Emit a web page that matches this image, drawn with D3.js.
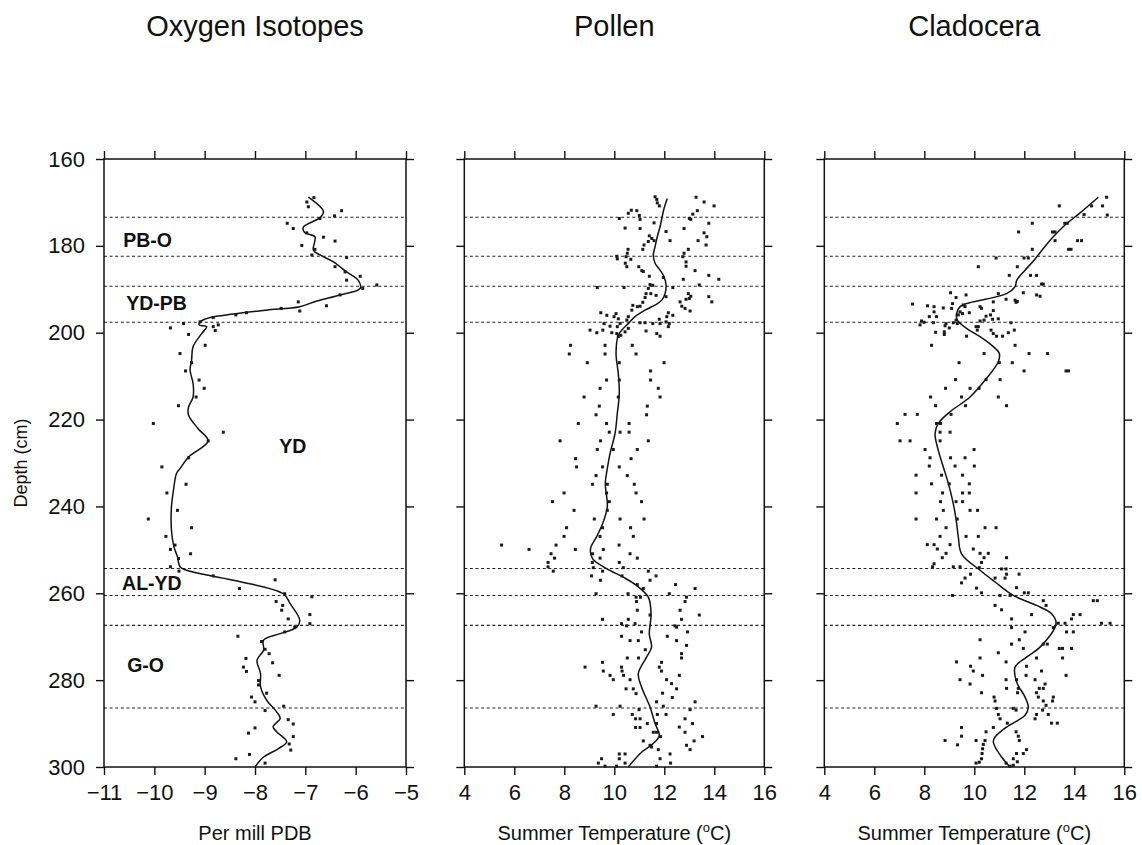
<!DOCTYPE html>
<html>
<head>
<meta charset="utf-8">
<script src="https://cdn.jsdelivr.net/npm/d3@7"></script>
<style>
  body { margin:0; background:#fff; }
  text { font-family:"Liberation Sans", Arial, Helvetica, sans-serif; fill:#111; }
</style>
</head>
<body>
<div id="chart"></div>
<script>
var W = 1142, H = 845

// ---- data (value, depth cm) ----
var titles     = ['Oxygen Isotopes', 'Pollen', 'Cladocera']
var depthTicks = [160, 180, 200, 220, 240, 260, 280, 300]
var isoTicks   = [-11, -10, -9, -8, -7, -6, -5]
var tempTicks  = [4, 6, 8, 10, 12, 14, 16]
var zoneLines  = [173.4, 182.4, 189.3, 197.6, 254.3, 260.5, 267.4, 286.4]
var zoneNames  = ['PB-O', 'YD-PB', 'YD', 'AL-YD', 'G-O']
var zoneLabelAt = [[-10.62, 180.3], [-10.56, 194.8], [-7.52, 227.7], [-10.64, 259.3], [-10.54, 278.2]]

var isoDots = [[-6.97,169.9],[-6.94,171.0],[-6.83,168.9],[-6.28,171.9],[-6.42,173.1],[-6.71,173.7],[-7.36,174.8],[-7.24,176.0],[-6.97,177.0],[-6.64,178.0],[-6.41,178.9],[-7.07,179.9],[-6.81,180.8],[-6.87,182.1],[-6.18,182.7],[-6.41,184.8],[-6.21,186.0],[-5.91,187.0],[-6.18,187.9],[-5.58,189.0],[-5.86,189.8],[-6.31,191.3],[-7.14,192.9],[-6.58,193.8],[-7.11,195.0],[-7.48,194.4],[-8.17,195.4],[-8.38,195.9],[-8.83,196.5],[-9.09,197.5],[-9.42,197.9],[-9.68,198.9],[-8.83,198.6],[-8.73,198.2],[-8.79,199.5],[-9.32,200.4],[-8.99,202.9],[-9.49,204.8],[-9.26,206.9],[-9.38,208.8],[-9.11,210.9],[-9.01,212.8],[-9.17,214.8],[-9.52,216.8],[-10.02,220.9],[-8.63,222.9],[-8.93,224.9],[-9.32,228.8],[-9.85,230.9],[-9.37,234.9],[-9.75,236.9],[-9.54,240.9],[-10.12,242.9],[-9.26,244.9],[-9.77,246.9],[-9.59,248.9],[-9.68,249.9],[-9.28,250.9],[-9.52,252.0],[-9.68,253.9],[-9.51,254.9],[-8.83,256.0],[-7.60,256.9],[-8.31,258.9],[-7.41,260.1],[-6.87,260.8],[-7.58,261.9],[-7.45,262.8],[-7.47,263.9],[-6.91,264.9],[-7.34,265.9],[-6.91,267.0],[-7.21,267.8],[-7.41,268.9],[-8.34,269.9],[-7.87,271.1],[-7.80,272.9],[-7.72,273.9],[-8.18,275.0],[-7.65,276.0],[-8.23,277.0],[-8.17,278.0],[-7.52,278.9],[-7.93,280.1],[-7.93,281.1],[-7.77,283.0],[-8.07,283.9],[-8.00,285.0],[-7.43,286.0],[-7.80,287.0],[-7.34,289.1],[-7.24,290.1],[-8.00,291.0],[-8.13,292.2],[-7.24,293.0],[-7.32,294.7],[-7.29,296.1],[-8.11,297.1],[-8.38,298.1],[-7.80,299.1]]

var isoLine = [[-6.94,168.8],[-6.64,172.1],[-6.71,173.5],[-7.04,175.7],[-7.01,177.0],[-6.81,177.9],[-6.84,181.0],[-6.71,182.1],[-6.44,183.7],[-6.18,186.0],[-5.95,187.9],[-5.91,189.8],[-6.31,191.3],[-6.77,192.7],[-7.11,194.0],[-7.77,194.8],[-8.43,195.7],[-8.89,196.5],[-9.09,197.5],[-9.11,198.2],[-8.96,198.6],[-9.06,200.2],[-9.23,203.2],[-9.26,206.3],[-9.29,208.6],[-9.23,211.7],[-9.23,214.8],[-9.32,217.1],[-9.32,219.0],[-9.13,222.1],[-8.93,224.9],[-9.32,228.6],[-9.49,231.3],[-9.56,232.4],[-9.62,236.3],[-9.66,240.1],[-9.66,245.5],[-9.61,249.3],[-9.54,251.6],[-9.49,253.9],[-9.36,254.7],[-8.43,257.0],[-7.44,260.1],[-7.30,262.4],[-7.11,266.2],[-7.17,267.8],[-7.50,269.3],[-7.83,270.8],[-7.83,273.1],[-7.96,275.4],[-7.89,278.5],[-7.89,281.5],[-7.77,284.6],[-7.57,287.3],[-7.50,288.8],[-7.64,290.7],[-7.57,291.9],[-7.37,294.2],[-7.54,295.8],[-7.83,297.7],[-8.00,300.0]]

var pollenDots = [[11.63,168.7],[11.70,169.3],[11.72,170.1],[11.80,170.8],[13.27,168.8],[13.59,169.9],[13.99,170.8],[10.68,171.8],[10.90,171.9],[10.56,172.5],[11.00,173.0],[11.03,173.9],[10.20,173.7],[13.32,171.9],[13.14,172.7],[13.00,173.7],[13.06,173.9],[13.78,174.8],[10.43,175.9],[11.03,176.0],[12.79,176.0],[11.59,174.7],[12.07,176.7],[11.40,177.7],[11.50,178.3],[11.59,178.8],[11.36,179.0],[13.59,177.0],[13.70,177.9],[13.35,178.8],[12.23,178.8],[11.19,179.8],[11.14,180.8],[13.67,179.8],[10.55,180.8],[10.52,181.7],[12.96,180.8],[12.79,181.7],[12.74,182.5],[12.87,183.7],[12.87,184.7],[10.10,182.4],[10.12,183.0],[10.47,182.5],[10.66,183.1],[10.44,184.0],[10.50,184.8],[10.98,184.8],[11.10,185.7],[11.16,185.9],[11.40,187.0],[13.23,185.7],[13.78,186.8],[14.18,187.7],[12.76,187.7],[11.96,187.3],[13.40,189.0],[9.32,189.6],[10.39,189.6],[11.43,188.9],[11.54,189.1],[11.36,189.8],[12.34,189.6],[11.27,191.0],[11.46,191.0],[11.67,191.4],[11.23,191.9],[12.96,191.0],[13.06,191.6],[13.00,192.1],[12.87,192.3],[13.78,191.7],[13.90,192.9],[12.07,191.7],[11.14,193.0],[11.03,193.9],[10.92,194.0],[10.74,193.7],[10.70,194.8],[12.63,192.9],[12.70,193.9],[12.83,194.4],[13.03,195.0],[9.46,195.4],[9.70,196.0],[10.07,195.6],[9.99,196.3],[10.16,196.8],[10.23,197.9],[10.12,198.6],[10.56,196.3],[10.50,197.1],[12.16,195.4],[12.34,196.0],[12.10,196.3],[12.07,197.5],[12.20,197.9],[12.16,198.6],[11.80,196.9],[11.83,197.9],[11.54,197.9],[11.03,197.7],[11.23,197.7],[9.59,197.9],[9.83,198.5],[9.03,199.4],[9.30,200.0],[9.54,199.4],[9.90,200.0],[10.10,200.2],[10.16,200.9],[10.26,200.6],[10.56,199.0],[10.43,199.8],[11.27,199.6],[11.70,200.2],[11.83,200.8],
[8.25,202.9],[9.63,202.9],[10.72,202.9],[8.20,204.9],[9.63,204.9],[10.87,204.9],[8.92,206.9],[11.99,206.9],[10.20,206.9],[11.45,208.8],[9.69,210.9],[10.20,210.9],[11.45,210.9],[9.43,212.8],[11.76,212.8],[8.79,214.8],[11.83,214.8],[10.16,214.8],[9.40,216.9],[11.32,216.9],[9.27,218.9],[11.29,218.9],[8.56,220.9],[9.69,220.9],[10.59,220.9],[9.80,222.9],[10.23,222.9],[10.59,222.9],[7.83,224.9],[9.45,224.9],[11.36,224.9],[9.32,226.9],[9.96,226.9],[10.92,226.9],[8.45,229.0],[10.67,229.0],[8.49,230.9],[9.53,230.9],[10.20,230.9],
[9.27,232.9],[10.52,232.9],[9.13,234.9],[9.72,234.9],[10.80,234.9],[7.99,236.9],[9.69,236.9],[10.87,236.9],[7.53,238.9],[9.80,238.9],[11.09,238.9],[8.39,240.9],[9.72,240.9],[10.23,242.9],[9.20,242.9],[11.19,242.9],[8.09,244.9],[9.53,244.9],[10.65,244.9],[7.99,246.9],[9.43,246.9],[10.76,246.9],[5.49,248.9],[7.67,248.9],[10.19,248.9],[6.59,249.9],[8.44,249.9],[9.56,249.9],[9.13,250.9],[10.63,250.9],[7.47,250.9],[7.61,251.9],[10.92,251.9],[9.43,251.9],[7.35,252.9],[7.35,253.9],[9.12,252.9],[10.20,252.9],[7.56,254.9],[9.16,254.1],[9.53,254.9],[10.36,254.1],[11.36,254.9],[9.09,256.0],[9.45,257.0],[11.67,256.0],[11.43,257.0],[10.31,256.0],[10.92,258.0],[12.45,258.0],[11.16,258.9],[13.23,258.9],[9.27,260.1],[10.55,260.1],[12.20,260.1],[10.87,260.9],[11.05,260.9],[12.89,260.9],[10.89,261.9],[12.83,261.9],[10.92,263.9],[12.63,263.9],[13.40,265.0],[11.43,265.0],[9.53,266.0],[10.56,266.0],[12.69,266.0],[10.29,267.0],[10.49,267.5],[10.83,267.0],[12.49,267.8],[12.43,267.5],[11.09,268.9],[12.93,268.9],[10.29,269.9],[12.12,269.9],[10.63,270.9],[10.96,270.9],[12.49,270.9],[12.89,272.0],[11.24,273.0],[12.69,273.9],[12.69,274.9],[10.52,274.9],[10.97,274.9],[9.53,275.9],[11.89,275.9],[8.83,277.0],[10.29,277.0],[11.80,277.0],[9.56,277.9],[10.31,277.9],[11.89,277.9],[12.60,278.9],[9.83,278.9],[10.37,278.9],[9.96,279.9],[10.63,279.9],[12.09,279.9],[10.47,282.0],[10.76,282.0],[12.29,280.8],[12.49,282.0],[10.87,283.1],[11.93,283.0],[12.32,284.0],[11.69,285.0],[13.23,285.0],[9.27,286.0],[10.23,286.0],[11.96,286.0],[13.03,286.8],[10.99,286.8],[9.96,287.9],[10.72,287.9],[11.72,287.9],[12.07,287.9],[12.83,288.9],[10.85,288.9],[11.03,288.9],[11.32,290.0],[11.69,290.0],[12.60,290.8],[13.13,290.0],[10.85,290.9],[11.03,290.9],[12.83,292.0],[11.56,292.0],[11.69,292.0],[13.53,293.0],[11.85,293.0],[11.16,294.0],[13.19,294.0],[12.89,295.0],[11.43,295.0],[11.49,295.4],[13.03,296.0],[11.76,296.0],[10.20,297.0],[10.43,297.0],[12.23,297.0],[9.49,298.1],[10.20,298.1],[11.83,298.1],[9.36,299.1],[10.43,299.1],[12.25,299.1],[9.63,299.8],[10.09,299.8],[11.69,299.8]]

var pollenLine = [[12.12,169.1],[11.99,171.4],[11.90,173.7],[11.83,175.6],[11.72,177.9],[11.63,180.2],[11.56,182.1],[11.63,184.0],[11.83,185.6],[11.99,187.1],[12.07,189.0],[12.03,191.0],[11.90,192.5],[11.70,193.4],[11.23,194.8],[10.83,196.3],[10.56,197.9],[10.36,199.0],[10.16,200.6],[10.07,204.8],[10.16,209.4],[10.20,214.0],[10.12,218.6],[10.03,223.2],[9.83,227.8],[9.72,231.3],[9.64,234.7],[9.72,240.1],[9.53,244.0],[9.29,247.0],[9.05,249.7],[9.13,252.0],[9.69,254.3],[10.36,256.3],[10.89,258.2],[11.36,260.9],[11.47,264.8],[11.40,269.4],[11.49,272.4],[11.29,274.7],[10.96,278.5],[11.09,281.6],[11.43,286.2],[11.63,290.0],[11.80,292.7],[11.56,294.6],[11.09,296.6],[10.56,300.0]]

var cladDots = [[15.29,168.8],[13.40,170.8],[15.13,170.8],[14.69,170.8],[15.32,172.9],[14.39,172.8],[13.62,174.8],[13.72,174.8],[12.32,174.8],[11.77,176.8],[13.13,176.8],[13.23,176.8],[13.23,178.8],[14.13,178.8],[14.29,178.8],[12.32,180.8],[13.77,180.8],[13.87,180.8],[10.87,182.8],[11.99,182.8],[12.16,182.8],[10.16,184.8],[11.72,184.8],[11.40,186.8],[12.25,186.8],[12.49,186.8],[12.69,188.8],[12.76,188.8],[11.96,190.8],[12.49,191.3],[12.63,191.6],[11.63,192.5],[11.67,193.0],[11.72,192.8],[10.96,191.0],[9.05,190.8],[9.27,191.9],[9.67,191.3],[11.27,192.3],[10.76,192.9],[7.53,193.4],[8.13,193.8],[8.39,194.0],[8.76,194.3],[9.13,193.3],[9.09,194.4],[9.56,193.6],[9.63,194.0],[10.23,194.0],[10.29,194.4],[8.39,195.2],[8.20,196.3],[8.49,196.3],[9.43,195.2],[9.36,195.9],[9.53,195.6],[9.80,195.4],[10.76,194.9],[10.65,195.9],[10.73,196.9],[9.27,197.1],[9.16,197.7],[9.32,197.9],[7.89,197.3],[7.99,197.6],[7.83,198.2],[8.36,197.7],[8.87,197.9],[8.83,198.4],[10.23,197.3],[10.07,198.6],[10.39,197.1],[10.47,196.2],[10.96,196.8],[11.47,197.7],[10.67,199.4],[10.76,200.2],[10.89,200.8],[11.13,200.8],[11.36,200.0],[11.60,199.4],[8.45,199.9],[8.80,199.8],[8.80,200.4],[9.00,198.9],[10.12,199.4],[10.16,198.6],[9.69,200.8],[8.29,202.9],[11.63,202.9],[10.39,204.8],[12.19,204.8],[12.93,204.8],[9.39,206.9],[11.52,206.9],[11.00,206.9],[11.99,208.8],[13.67,208.8],[13.77,208.8],[9.25,210.8],[10.47,210.8],[11.03,210.8],[8.85,212.8],[9.83,212.8],[10.19,212.8],[8.25,214.8],[9.49,214.8],[10.96,214.8],[8.45,216.8],[9.65,216.8],[11.29,216.8],[7.23,218.8],[7.72,218.8],[9.07,218.8],[6.92,220.9],[8.49,220.9],[8.65,220.9],[8.63,222.9],[9.03,222.9],[7.03,224.9],[7.43,224.9],[8.63,224.9],[8.03,226.9],[9.99,226.9],[8.23,228.8],[9.05,228.8],[9.63,228.8],[8.20,230.7],[9.23,230.7],[10.00,230.7],
[7.67,232.8],[8.69,232.8],[9.53,232.8],[8.29,234.8],[9.00,234.8],[9.80,234.8],[7.67,236.9],[8.73,236.9],[9.80,236.9],[9.53,236.9],[8.65,238.9],[9.27,238.9],[9.53,238.9],[8.76,240.9],[9.83,240.9],[10.13,240.9],[7.67,242.9],[8.49,242.9],[9.32,242.9],[8.87,244.9],[10.43,244.9],[10.87,244.9],[8.63,246.9],[9.67,246.9],[10.16,246.9],[8.12,248.8],[8.39,248.8],[9.03,248.8],[9.96,249.8],[10.23,250.8],[10.56,250.8],[8.52,249.8],[8.87,250.8],[8.72,251.8],[10.39,251.8],[10.29,252.9],[11.29,251.8],[8.39,253.2],[8.33,253.9],[9.16,253.9],[9.43,253.9],[10.20,254.1],[11.09,254.4],[11.27,254.4],[9.85,255.6],[9.63,256.5],[9.49,257.6],[10.83,256.5],[11.23,256.5],[11.79,255.6],[11.29,255.6],[11.69,258.7],[10.09,258.8],[10.29,259.9],[12.00,259.9],[12.16,259.9],[9.13,260.5],[11.03,260.5],[11.43,260.5],[12.76,261.7],[12.87,262.8],[10.83,262.8],[11.09,263.8],[12.29,264.9],[13.96,264.9],[14.23,264.9],[11.49,265.9],[11.49,267.9],[13.89,265.9],[13.63,266.9],[15.09,266.9],[15.43,266.9],[14.76,261.7],[14.92,261.7],[13.36,266.9],[13.16,267.9],[12.03,268.9],[11.80,270.7],[13.69,268.9],[13.96,268.9],[10.23,270.7],[11.49,271.7],[12.76,271.7],[12.92,271.7],[10.96,273.7],[11.96,272.7],[13.40,272.7],[13.53,272.7],[13.89,272.7],[10.23,274.9],[12.49,274.9],[13.53,274.9],[9.29,275.8],[11.27,275.8],[9.85,276.8],[9.96,277.9],[12.09,276.8],[12.69,277.9],[10.33,278.9],[12.07,278.9],[13.67,278.9],[9.43,279.9],[11.27,279.9],[11.69,279.9],[12.43,279.9],[9.83,280.9],[12.83,280.9],[11.29,281.9],[11.76,281.9],[12.60,281.9],[12.76,281.9],[10.29,282.9],[12.49,282.9],[11.73,282.9],[10.79,283.9],[10.83,284.8],[12.56,283.9],[13.16,283.9],[13.13,284.8],[12.76,284.8],[12.87,285.8],[11.56,286.5],[11.67,286.9],[10.89,286.5],[12.73,286.9],[10.96,287.9],[12.49,287.9],[12.43,288.9],[12.96,287.9],[13.09,289.9],[13.32,289.9],[11.03,288.9],[11.32,289.9],[9.49,290.9],[9.49,292.9],[10.76,290.9],[10.47,291.9],[11.67,291.9],[11.76,292.9],[8.83,293.9],[9.33,294.9],[10.07,293.9],[10.43,293.9],[10.36,294.8],[10.33,295.8],[10.31,296.9],[10.29,298.1],[10.20,298.9],[10.07,299.1],[11.80,293.9],[12.09,296.0],[11.96,296.9],[11.69,296.9],[11.56,298.1],[11.27,299.1],[11.43,299.8],[11.56,299.6],[11.72,298.8]]

var cladLine = [[14.96,168.8],[14.23,172.4],[13.63,175.2],[13.16,177.9],[12.76,180.6],[12.39,183.3],[12.03,185.6],[11.70,187.9],[11.63,189.4],[11.29,191.0],[9.69,193.3],[9.43,194.0],[9.29,195.6],[9.32,197.1],[9.69,199.0],[10.23,200.9],[10.76,203.2],[11.00,204.8],[10.96,206.7],[10.49,210.5],[9.83,214.8],[9.03,218.2],[8.56,220.9],[8.43,223.2],[8.56,227.1],[8.76,230.9],[8.96,234.7],[9.13,238.6],[9.27,242.9],[9.36,247.0],[9.49,250.9],[10.23,254.7],[10.83,257.4],[11.56,260.5],[12.49,262.8],[13.09,264.7],[13.27,267.0],[12.63,272.4],[12.09,274.7],[11.63,277.0],[11.69,280.4],[12.03,283.9],[12.16,286.2],[12.03,288.1],[11.29,290.8],[10.83,293.1],[10.76,294.3],[11.09,297.7],[11.43,300.0]]

// ---- layout ----
var yTop = 159, yBot = 767
var panels = [
    { x0:104,   x1:406,    dom:[-11, -5], ticks:isoTicks,  dots:isoDots,    line:isoLine,    xlab:'Per mill PDB' },
    { x0:464.3, x1:764.3,  dom:[4, 16],   ticks:tempTicks, dots:pollenDots, line:pollenLine, xlab:'Summer Temperature' },
    { x0:824.3, x1:1124.3, dom:[4, 16],   ticks:tempTicks, dots:cladDots,   line:cladLine,   xlab:'Summer Temperature' }
]

var svg = d3.select('#chart').append('svg')
    .attr('width', W)
    .attr('height', H)

var y = d3.scaleLinear().domain([160, 300]).range([yTop, yBot])

function styleAxis(g) {
    g.select('.domain').remove()
    g.selectAll('.tick line').attr('stroke', '#111').attr('stroke-width', 1.4)
    g.selectAll('.tick text').attr('font-size', 22).attr('fill', '#111')
        .attr('font-family', '"Liberation Sans", Arial, sans-serif')
}

panels.forEach(function(p, i) {
    var x = d3.scaleLinear().domain(p.dom).range([p.x0, p.x1])
    var g = svg.append('g')
    var cx = (p.x0 + p.x1) / 2

    // title
    svg.append('text')
        .attr('x', cx)
        .attr('y', 36)
        .attr('text-anchor', 'middle')
        .attr('font-size', 29)
        .text(titles[i])

    // zone boundaries
    g.selectAll('.zone')
        .data(zoneLines)
        .enter().append('line')
        .attr('x1', p.x0).attr('x2', p.x1)
        .attr('y1', d=> y(d)).attr('y2', d=> y(d))
        .attr('stroke', '#222')
        .attr('stroke-width', 1.1)
        .attr('stroke-dasharray', '3,2.6')

    // axes, ticks outside on all sides
    g.append('g')
        .attr('transform', 'translate(0,' + yBot + ')')
        .call(d3.axisBottom(x).tickValues(p.ticks).tickSize(8).tickPadding(9).tickSizeOuter(0)
            .tickFormat(d3.format('d')))
        .call(styleAxis)
    g.append('g')
        .attr('transform', 'translate(0,' + yTop + ')')
        .call(d3.axisTop(x).tickValues(p.ticks).tickSize(8).tickFormat('').tickSizeOuter(0))
        .call(styleAxis)
    g.append('g')
        .attr('transform', 'translate(' + p.x0 + ',0)')
        .call(d3.axisLeft(y).tickValues(depthTicks).tickSize(8).tickPadding(11).tickSizeOuter(0)
            .tickFormat(i === 0 ? d3.format('d') : ''))
        .call(styleAxis)
    g.append('g')
        .attr('transform', 'translate(' + p.x1 + ',0)')
        .call(d3.axisRight(y).tickValues(depthTicks).tickSize(8).tickFormat('').tickSizeOuter(0))
        .call(styleAxis)

    // frame
    g.append('rect')
        .attr('x', p.x0).attr('y', yTop)
        .attr('width', p.x1 - p.x0).attr('height', yBot - yTop)
        .attr('fill', 'none')
        .attr('stroke', '#111')
        .attr('stroke-width', 1.5)

    // smoothed curve
    g.append('path')
        .datum(p.line)
        .attr('fill', 'none')
        .attr('stroke', '#111')
        .attr('stroke-width', 1.5)
        .attr('d', d3.line().x(d=> x(d[0])).y(d=> y(d[1])).curve(d3.curveCatmullRom.alpha(0.5)))

    // samples
    g.selectAll('.dot')
        .data(p.dots)
        .enter().append('rect')
        .attr('x', d=> x(d[0]) - 1.5)
        .attr('y', d=> y(d[1]) - 1.5)
        .attr('width', 3)
        .attr('height', 3)
        .attr('fill', '#1a1a1a')

    // x label
    var lab = svg.append('text')
        .attr('x', cx)
        .attr('y', 840)
        .attr('text-anchor', 'middle')
        .attr('font-size', 20)
    if (i === 0) lab.text(p.xlab)
    else {
        lab.append('tspan').text(p.xlab + ' (')
        lab.append('tspan').attr('dy', -8).attr('font-size', 13).text('o')
        lab.append('tspan').attr('dy', 8).text('C)')
    }

    // zone labels only on the isotope panel
    if (i === 0) {
        svg.selectAll('.zlab')
            .data(zoneNames)
            .enter().append('text')
            .attr('x', (d, k)=> x(zoneLabelAt[k][0]))
            .attr('y', (d, k)=> y(zoneLabelAt[k][1]))
            .attr('font-size', 19.5)
            .attr('font-weight', 'bold')
            .text(d=> d)
    }
})

svg.append('text')
    .attr('transform', 'translate(27,' + ((yTop + yBot) / 2) + ') rotate(-90)')
    .attr('text-anchor', 'middle')
    .attr('font-size', 18)
    .text('Depth (cm)')
</script>
</body>
</html>
